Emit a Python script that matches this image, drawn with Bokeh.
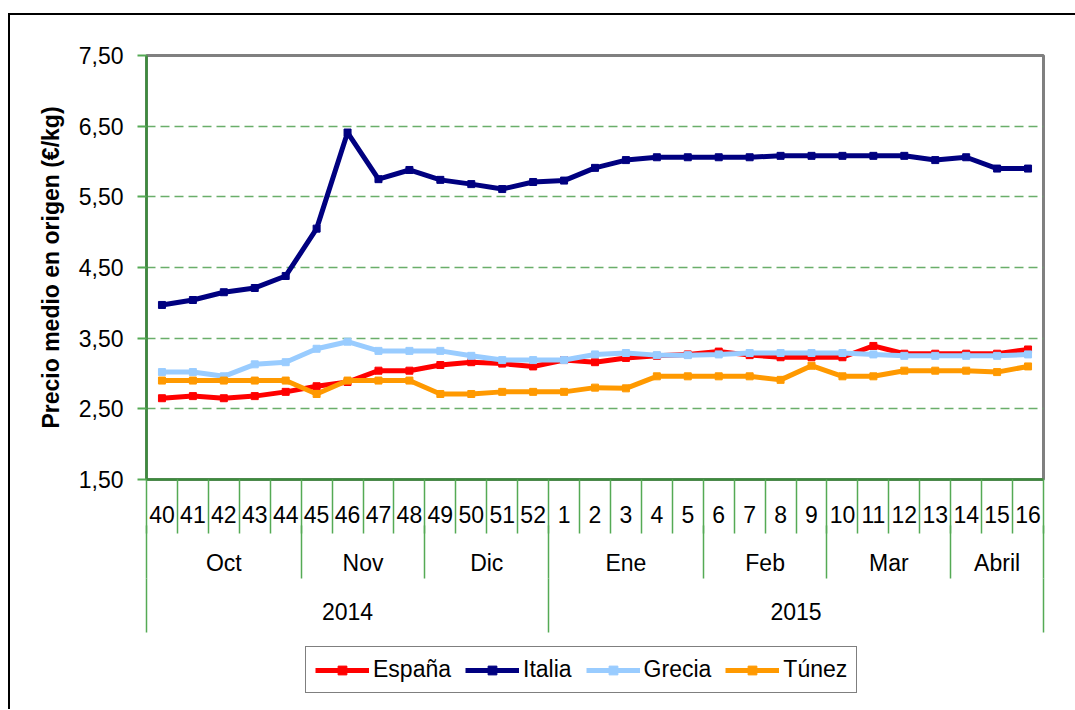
from bokeh.plotting import figure
from bokeh.layouts import column
from bokeh.models import Range1d, LinearAxis, FixedTicker, Legend, LegendItem
from bokeh.embed import file_html
from bokeh.resources import INLINE

# ---- data ----
weeks = ["40", "41", "42", "43", "44", "45", "46", "47", "48", "49", "50", "51", "52",
         "1", "2", "3", "4", "5", "6", "7", "8", "9", "10", "11", "12", "13", "14", "15", "16"]
months = ["Oct", "Nov", "Dic", "Ene", "Feb", "Mar", "Abril"]
month_weeks = [5, 4, 4, 5, 4, 4, 3]
years = ["2014", "2015"]
year_weeks = [13, 16]
y_ticks = [1.5, 2.5, 3.5, 4.5, 5.5, 6.5, 7.5]
y_tick_labels = ["1,50", "2,50", "3,50", "4,50", "5,50", "6,50", "7,50"]

espana = [2.65, 2.68, 2.65, 2.68, 2.74, 2.82, 2.88, 3.04, 3.04, 3.12, 3.16, 3.14, 3.10,
          3.19, 3.16, 3.22, 3.25, 3.27, 3.31, 3.26, 3.23, 3.23, 3.23, 3.39, 3.28, 3.28, 3.28, 3.28, 3.34]
italia = [3.97, 4.04, 4.15, 4.21, 4.38, 5.05, 6.41, 5.75, 5.88, 5.74, 5.68, 5.61, 5.71,
          5.73, 5.91, 6.02, 6.06, 6.06, 6.06, 6.06, 6.08, 6.08, 6.08, 6.08, 6.08, 6.02, 6.06, 5.90, 5.90]
grecia = [3.02, 3.02, 2.96, 3.13, 3.16, 3.35, 3.45, 3.32, 3.32, 3.32, 3.25, 3.19, 3.19,
          3.19, 3.27, 3.29, 3.26, 3.26, 3.27, 3.29, 3.29, 3.29, 3.29, 3.27, 3.25, 3.25, 3.25, 3.25, 3.27]
tunez = [2.90, 2.90, 2.90, 2.90, 2.90, 2.71, 2.90, 2.90, 2.90, 2.71, 2.71, 2.74, 2.74,
         2.74, 2.80, 2.79, 2.96, 2.96, 2.96, 2.96, 2.91, 3.11, 2.96, 2.96, 3.04, 3.04, 3.04, 3.02, 3.10]

series = [("España", espana, "#FF0000"),
          ("Italia", italia, "#000080"),
          ("Grecia", grecia, "#99CCFF"),
          ("Túnez", tunez, "#FF9900")]

# ---- derived positions ----
n = len(weeks)
xc = [i + 0.5 for i in range(n)]
week_bounds = list(range(n + 1))


def group_layout(counts):
    bounds = [0]
    for c in counts:
        bounds.append(bounds[-1] + c)
    centers = [(bounds[i] + bounds[i + 1]) / 2 for i in range(len(counts))]
    return bounds, centers


month_bounds, month_centers = group_layout(month_weeks)
year_bounds, year_centers = group_layout(year_weeks)

FONT = "Liberation Sans"
AXIS_GREEN = "#3c8c3c"
SEP_GREEN = "#55aa55"
GRID_GREEN = "#6aae6a"

p = figure(frame_width=897, frame_height=424, output_backend="svg", toolbar_location=None,
           x_range=Range1d(0, n), y_range=Range1d(1.5, 7.5),
           x_axis_location=None,
           min_border_left=136, min_border_top=40, min_border_right=32, min_border_bottom=160)

p.outline_line_color = "#808080"
p.outline_line_width = 3

# y axis
ya = p.yaxis[0]
ya.ticker = FixedTicker(ticks=y_ticks)
ya.major_label_overrides = {t: l for t, l in zip(y_ticks, y_tick_labels)}
ya.major_label_text_font = FONT
ya.major_label_text_font_size = "23px"
ya.major_label_text_color = "#000000"
ya.major_tick_in = 0
ya.major_tick_out = 9
ya.major_tick_line_color = SEP_GREEN
ya.major_tick_line_width = 2
ya.minor_tick_line_color = None
ya.axis_line_color = AXIS_GREEN
ya.axis_line_width = 2.5
ya.major_label_standoff = 14
ya.axis_label = "Precio medio en origen (€/kg)"
ya.axis_label_text_font = FONT
ya.axis_label_text_font_style = "bold"
ya.axis_label_text_font_size = "23px"
ya.axis_label_text_color = "#000000"
ya.axis_label_standoff = 12

p.ygrid.ticker = FixedTicker(ticks=[t for t in y_ticks if 1.5 < t < 7.5])
p.ygrid.grid_line_color = GRID_GREEN
p.ygrid.grid_line_dash = "9 5"
p.ygrid.grid_line_width = 1.5
for g in p.xgrid:
    g.visible = False


def make_axis(centers, labels, bounds, standoff, sep_len, line_color):
    ax = LinearAxis(ticker=FixedTicker(ticks=centers, minor_ticks=bounds))
    ax.major_label_overrides = {c: l for c, l in zip(centers, labels)}
    ax.major_label_text_font = FONT
    ax.major_label_text_font_size = "23px"
    ax.major_label_text_color = "#000000"
    ax.major_label_standoff = standoff
    ax.major_tick_in = 0
    ax.major_tick_out = 0
    ax.major_tick_line_color = None
    ax.minor_tick_in = 0
    ax.minor_tick_out = sep_len
    ax.minor_tick_line_color = SEP_GREEN
    ax.minor_tick_line_width = 1.5
    ax.axis_line_color = line_color
    ax.axis_line_width = 2.5
    return ax


ax_weeks = make_axis(xc, weeks, week_bounds, -28, 54, AXIS_GREEN)
ax_months = make_axis(month_centers, months, month_bounds, -29, 53, None)
ax_years = make_axis(year_centers, years, year_bounds, -30, 54, None)
p.add_layout(ax_weeks, "below")
p.add_layout(ax_months, "below")
p.add_layout(ax_years, "below")

for name, vals, color in series:
    p.line(xc, vals, line_color=color, line_width=5)
    p.scatter(xc, vals, marker="square", size=7, fill_color=color, line_color=color)

# ---- legend strip (own figure, key samples only; its data view lies off-screen) ----
q = figure(width=1065, height=70, output_backend="svg", toolbar_location=None,
           x_range=Range1d(-20, -19), y_range=Range1d(0, 1),
           x_axis_location=None, y_axis_location=None, min_border=0)
q.outline_line_color = None
q.xgrid.visible = False
q.ygrid.visible = False
items = []
for name, vals, color in series:
    lr = q.line(xc, vals, line_color=color, line_width=5)
    sr = q.scatter(xc, vals, marker="square", size=7, fill_color=color, line_color=color)
    items.append(LegendItem(label=name, renderers=[lr, sr]))

legend = Legend(items=items, orientation="horizontal", location=(159, 16))
legend.label_text_font = FONT
legend.label_text_font_size = "23px"
legend.label_text_color = "#000000"
legend.glyph_width = 54
legend.glyph_height = 22
legend.label_standoff = 4
legend.spacing = 14
legend.padding = 9
legend.margin = 0
legend.border_line_color = "#000000"
legend.border_line_width = 1.5
legend.background_fill_color = "#FFFFFF"
legend.background_fill_alpha = 1
q.add_layout(legend, "center")

layout = column(p, q, spacing=0,
                styles={"margin-top": "13px", "margin-left": "8px",
                        "border-left": "2px solid black", "border-top": "2px solid black"})

open("out.html", "w").write(file_html(layout, INLINE))
